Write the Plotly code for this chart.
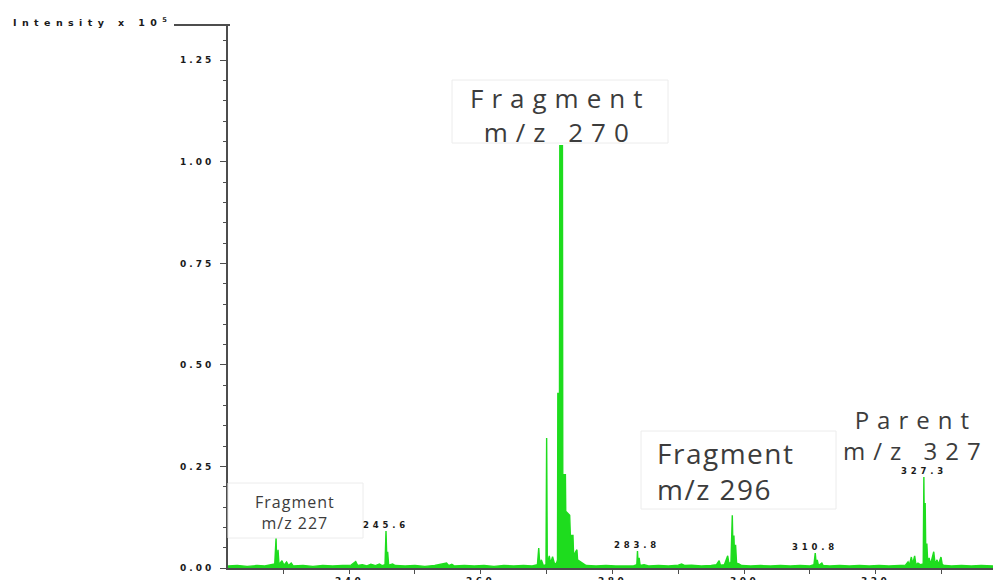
import plotly.graph_objects as go

# Product-ion spectrum (m/z, relative intensity x 10^5)
mz = [
    221.6, 223.0, 224.5, 226.0, 227.2, 228.0, 228.7, 228.9, 229.0, 229.2, 229.35, 229.8, 230.1, 230.5,
    230.8, 231.2, 231.5, 233.0, 234.5, 236.0, 237.5, 239.0, 240.3, 241.0, 241.3, 242.0, 242.7, 243.3,
    244.0, 244.6, 245.0, 245.45, 245.6, 245.75, 245.85, 246.0, 246.6, 247.0, 248.5, 250.0, 251.5, 253.0,
    254.8, 255.1, 255.6, 256.0, 257.5, 259.0, 260.5, 262.0, 263.5, 265.0, 266.5, 267.8, 268.6, 268.8,
    268.95, 269.2, 269.5, 269.9, 270.0, 270.1, 270.4, 270.6, 270.9, 271.2, 271.5, 271.65, 271.7, 271.95,
    272.0, 272.4, 272.45, 272.85, 272.9, 273.5, 273.6, 274.0, 274.1, 274.4, 274.6, 274.7, 275.2, 275.6,
    276.0, 277.5, 279.0, 280.5, 282.0, 283.2, 283.7, 283.8, 283.9, 284.05, 284.2, 284.8, 285.5, 287.0,
    288.5, 290.0, 290.5, 291.0, 292.0, 293.5, 295.0, 295.8, 296.2, 296.4, 297.0, 297.5, 297.7, 298.0,
    298.2, 298.3, 298.45, 298.55, 298.7, 298.85, 299.2, 299.6, 301.0, 302.5, 304.0, 305.5, 307.0, 308.5,
    310.0, 310.6, 310.8, 310.95, 311.1, 311.3, 311.8, 312.0, 313.0, 314.5, 316.0, 317.5, 319.0, 320.5,
    322.0, 323.5, 324.5, 324.9, 325.1, 325.4, 325.6, 325.9, 326.1, 326.4, 326.8, 327.2, 327.3, 327.4,
    327.5, 327.6, 327.75, 327.9, 328.1, 328.3, 328.8, 329.0, 329.3, 329.5, 329.9, 330.1, 330.5, 331.5,
    333.0, 334.5, 336.0, 337.8,
]
intensity = [
    0.005, 0.006, 0.004, 0.006, 0.005, 0.007, 0.010, 0.074, 0.012, 0.045, 0.008, 0.018, 0.007, 0.015,
    0.006, 0.012, 0.005, 0.006, 0.004, 0.006, 0.005, 0.006, 0.007, 0.016, 0.006, 0.008, 0.005, 0.009,
    0.006, 0.010, 0.006, 0.008, 0.091, 0.010, 0.040, 0.007, 0.010, 0.006, 0.005, 0.006, 0.004, 0.006,
    0.012, 0.006, 0.009, 0.005, 0.006, 0.005, 0.006, 0.004, 0.006, 0.005, 0.006, 0.005, 0.008, 0.049,
    0.010, 0.020, 0.006, 0.008, 0.320, 0.010, 0.030, 0.012, 0.028, 0.010, 0.012, 0.020, 0.430, 0.430,
    1.040, 1.040, 0.230, 0.230, 0.140, 0.130, 0.080, 0.080, 0.030, 0.040, 0.045, 0.020, 0.015, 0.010,
    0.006, 0.005, 0.006, 0.005, 0.006, 0.005, 0.008, 0.042, 0.008, 0.025, 0.006, 0.008, 0.005, 0.006,
    0.005, 0.007, 0.010, 0.006, 0.007, 0.005, 0.006, 0.008, 0.018, 0.007, 0.008, 0.030, 0.010, 0.015,
    0.130, 0.050, 0.080, 0.020, 0.057, 0.012, 0.010, 0.006, 0.005, 0.006, 0.005, 0.006, 0.005, 0.006,
    0.005, 0.008, 0.037, 0.010, 0.020, 0.006, 0.012, 0.006, 0.005, 0.006, 0.005, 0.006, 0.005, 0.006,
    0.005, 0.006, 0.007, 0.015, 0.007, 0.027, 0.010, 0.030, 0.008, 0.012, 0.008, 0.010, 0.224, 0.030,
    0.160, 0.020, 0.060, 0.010, 0.025, 0.008, 0.040, 0.010, 0.020, 0.008, 0.027, 0.008, 0.006, 0.005,
    0.006, 0.005, 0.006, 0.005,
]

# Labelled peaks (m/z of the peak apex)
peak_labels = [245.6, 283.8, 310.8, 327.3]

# Ion annotations
ion_texts = [("Fragment", "m/z 227"), ("Fragment", "m/z 270"), ("Fragment", "m/z 296"), ("Parent", "m/z 327")]

y_ticks = [0.0, 0.25, 0.50, 0.75, 1.00, 1.25]
x_ticks = [240, 260, 280, 300, 320]
x_minor = [230, 250, 270, 290, 310, 330]

X_RANGE = [221.6, 337.8]
Y_RANGE = [0, 1.337]

W, H = 993, 580
ML, MR, MT, MB = 228, 0, 25, 12
PW, PH = W - ML - MR, H - MT - MB

GREEN = "rgb(30,220,30)"
AXIS = "#4d4d4d"
TEXT = "#3c3c3c"
SMALL = "DejaVu Sans, Liberation Sans, sans-serif"
TICKFONT = dict(family=SMALL, size=9, color="#1a1a1a")


def px(xp):
    return (xp - ML) / PW


def py(yp):
    return (H - MB - yp) / PH


def spaced(s, ls):
    return f"<span style='letter-spacing:{ls}px'>{s}</span>"


fig = go.Figure()
fig.add_trace(go.Scatter(
    x=mz, y=intensity, mode="lines",
    line=dict(color=GREEN, width=1.4),
    fill="tozeroy", fillcolor=GREEN,
    hoverinfo="x+y", showlegend=False,
))

annotations = []
shapes = []

# peak value labels
for v in peak_labels:
    annotations.append(dict(
        x=v, y=intensity[mz.index(v)], xref="x", yref="y",
        text="<b>" + spaced(f"{v:.1f}", 3.8) + "</b>", showarrow=False,
        xanchor="center", yanchor="bottom", yshift=-1,
        font=dict(family=SMALL, size=8.5, color="#1a1a1a"),
    ))

# m/z tick labels, sitting right under the axis (partly below the page edge)
for t in x_ticks:
    annotations.append(dict(
        x=t, y=py(574), xref="x", yref="paper",
        text="<b>" + spaced(str(t), 3.5) + "</b>", showarrow=False,
        xanchor="center", yanchor="top",
        font=TICKFONT,
    ))

# white boxes behind the ion annotations
boxes = [(228, 483, 363, 538), (452, 80, 668, 143), (641, 431, 836, 509)]
for x0, y0, x1, y1 in boxes:
    shapes.append(dict(
        type="rect", xref="paper", yref="paper",
        x0=px(x0), x1=px(x1), y0=py(y1), y1=py(y0),
        fillcolor="white", line=dict(color="#ececec", width=1), layer="above",
    ))

ion_layout = [
    # (center/left x, center y, size, letter spacing, anchor)
    (295, 512, 16, 1, "center"),
    (560, 115, 26, 8, "center"),
    (655, 471, 28, 1.5, "left"),
    (916, 435, 24, 8, "center"),
]
for (l1, l2), (xc, yc, sz, ls, anc) in zip(ion_texts, ion_layout):
    annotations.append(dict(
        x=px(xc), y=py(yc), xref="paper", yref="paper",
        text=spaced(l1, ls) + "<br>" + spaced(l2, ls), showarrow=False,
        xanchor=anc, yanchor="middle", align=anc if anc != "center" else "center",
        font=dict(family="Open Sans, Noto Sans, sans-serif", size=sz, color=TEXT),
    ))

# intensity unit title
annotations.append(dict(
    x=px(11), y=py(22), xref="paper", yref="paper",
    text="<b>" + spaced("Intensity x 10<sup>5</sup>", 5.4) + "</b>", showarrow=False,
    xanchor="left", yanchor="middle",
    font=dict(family=SMALL, size=9.5, color="#1a1a1a"),
))

# short horizontal rule at the top of the intensity axis
shapes.append(dict(
    type="line", xref="paper", yref="paper",
    x0=px(174), x1=px(230), y0=1, y1=1,
    line=dict(color=AXIS, width=2), layer="above",
))

fig.update_layout(
    width=W, height=H,
    margin=dict(l=ML, r=MR, t=MT, b=MB, pad=0, autoexpand=False),
    paper_bgcolor="white", plot_bgcolor="white",
    annotations=annotations, shapes=shapes,
    xaxis=dict(
        range=X_RANGE, showgrid=False, zeroline=False, automargin=False,
        showline=True, linecolor=AXIS, linewidth=1.5,
        ticks="outside", ticklen=4, tickwidth=1, tickcolor=AXIS,
        tickvals=x_ticks, showticklabels=False,
        minor=dict(tickvals=x_minor, ticks="outside", ticklen=4, tickwidth=1, tickcolor=AXIS),
    ),
    yaxis=dict(
        range=Y_RANGE, showgrid=False, zeroline=False, automargin=False,
        showline=True, linecolor=AXIS, linewidth=2,
        ticks="outside", ticklen=6, tickwidth=1, tickcolor=AXIS,
        tickvals=y_ticks, ticktext=["<b>" + spaced(f"{t:.2f}", 3) + "</b>" for t in y_ticks],
        tickfont=TICKFONT, ticklabelstandoff=4,
        minor=dict(dtick=0.05, ticks="outside", ticklen=3, tickwidth=1, tickcolor=AXIS),
    ),
)

fig.write_html("out.html")
